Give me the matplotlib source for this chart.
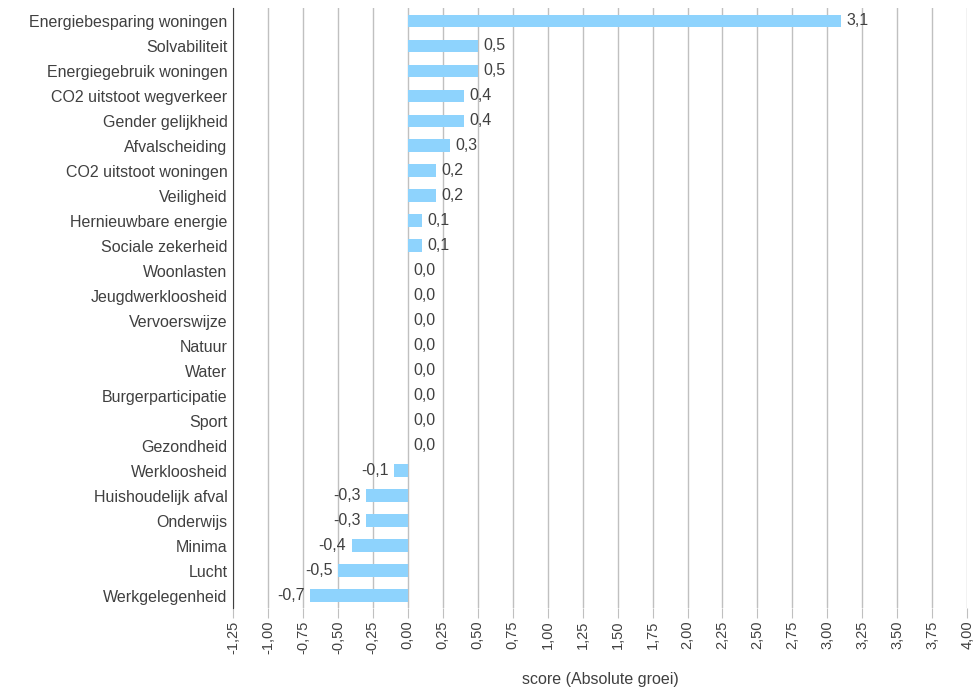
import numpy as np
import matplotlib
matplotlib.use('Agg')
import matplotlib.pyplot as plt

plt.rcParams['font.family'] = ['Liberation Sans', 'DejaVu Sans']

categories = ['Energiebesparing woningen', 'Solvabiliteit', 'Energiegebruik woningen',
              'CO2 uitstoot wegverkeer', 'Gender gelijkheid', 'Afvalscheiding',
              'CO2 uitstoot woningen', 'Veiligheid', 'Hernieuwbare energie',
              'Sociale zekerheid', 'Woonlasten', 'Jeugdwerkloosheid', 'Vervoerswijze',
              'Natuur', 'Water', 'Burgerparticipatie', 'Sport', 'Gezondheid',
              'Werkloosheid', 'Huishoudelijk afval', 'Onderwijs', 'Minima', 'Lucht',
              'Werkgelegenheid']
values = [3.1, 0.5, 0.5, 0.4, 0.4, 0.3, 0.2, 0.2, 0.1, 0.1, 0.0, 0.0, 0.0,
          0.0, 0.0, 0.0, 0.0, 0.0, -0.1, -0.3, -0.3, -0.4, -0.5, -0.7]
xticks = np.arange(-1.25, 4.01, 0.25)

BAR_COLOR = '#8ed3fd'
TEXT_COLOR = '#404040'
GRID_COLOR = '#c0c0c0'
FS = 11.5

fig = plt.figure(figsize=(9.75, 6.91), dpi=100)
ax = fig.add_axes([0.239, 0.12, 0.753, 0.868])

y = np.arange(len(categories))
ax.barh(y, values, height=0.5, color=BAR_COLOR, zorder=3)

# value labels next to the bar ends
for yi, v in zip(y, values):
    txt = f'{v:.1f}'.replace('.', ',')
    if v < 0:
        ax.text(v - 0.04, yi, txt, ha='right', va='center', fontsize=FS, color=TEXT_COLOR)
    else:
        ax.text(v + 0.04, yi, txt, ha='left', va='center', fontsize=FS, color=TEXT_COLOR)

ax.set_yticks(y)
ax.set_yticklabels(categories, fontsize=FS, color=TEXT_COLOR)
ax.set_ylim(len(categories) - 0.5, -0.5)
ax.tick_params(axis='y', length=0, pad=4)

ax.set_xlim(-1.25, 4.0)
ax.set_xticks(xticks)
ax.set_xticklabels([f'{t:.2f}'.replace('.', ',') for t in xticks],
                   rotation=90, fontsize=10.5, color=TEXT_COLOR)
ax.tick_params(axis='x', length=7, color=GRID_COLOR, pad=2)
ax.grid(axis='x', color=GRID_COLOR, linewidth=1, zorder=0)

for s in ['top', 'right', 'bottom']:
    ax.spines[s].set_visible(False)
ax.spines['left'].set_color('#404040')

ax.set_xlabel('score (Absolute groei)', fontsize=FS, color=TEXT_COLOR, labelpad=13)

fig.savefig('out.png', dpi=100)
